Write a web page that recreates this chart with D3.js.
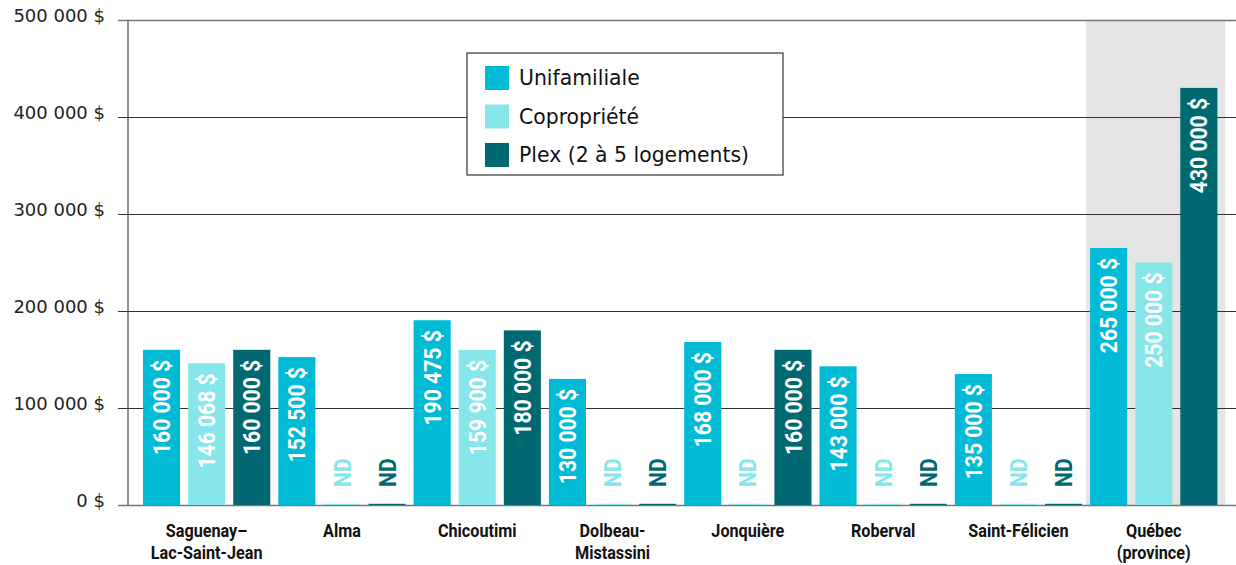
<!DOCTYPE html>
<html>
<head>
<meta charset="utf-8">
<script src="https://cdn.jsdelivr.net/npm/d3@7"></script>
<style>
  body { margin: 0; background: #fff; }
  svg { display: block; }
  .ylab { font-family: 'DejaVu Sans', sans-serif; font-size: 18px; fill: #222; }
  .cat { font-family: 'Roboto', sans-serif; font-weight: bold; font-size: 18px; fill: #111; }
  .val { font-family: 'Roboto', sans-serif; font-weight: bold; font-size: 24px; }
  .leg { font-family: 'DejaVu Sans', sans-serif; font-size: 20.4px; fill: #111; }
</style>
</head>
<body>
<svg></svg>
<script>
let width = 1236;
let height = 565;

// data
let categories = [
    ['Saguenay–', 'Lac-Saint-Jean'],
    ['Alma'],
    ['Chicoutimi'],
    ['Dolbeau-', 'Mistassini'],
    ['Jonquière'],
    ['Roberval'],
    ['Saint-Félicien'],
    ['Québec', '(province)']
];
let seriesNames = ['Unifamiliale', 'Copropriété', 'Plex (2 à 5 logements)'];
let unifamiliale = [160000, 152500, 190475, 130000, 168000, 143000, 135000, 265000];
let copropriete = [146068, null, 159900, null, null, null, null, 250000];
let plex = [160000, null, 180000, null, 160000, null, null, 430000];
let yTicks = [0, 100000, 200000, 300000, 400000, 500000];
let colors = ['#00BAD6', '#86E6EA', '#006870'];
let highlighted = 7; // Québec (province)

let series = [unifamiliale, copropriete, plex];

let svg = d3.select('svg')
    .attr('width', width)
    .attr('height', height);

let y = d3.scaleLinear()
    .domain([0, 500000])
    .range([505, 20]);

let x0 = d3.scaleBand()
    .domain(d3.range(categories.length))
    .range([139, 1221.4])
    .padding(0);

let x1 = d3.scaleBand()
    .domain(d3.range(series.length))
    .range([0, x0.bandwidth()])
    .paddingInner(0.178)
    .paddingOuter(0.089);

let fmt = function (v) {
    return d3.format(',')(v).replace(/,/g, ' ') + ' $';
};

// shaded band behind province
svg.append('rect')
    .attr('x', x0(highlighted))
    .attr('y', y(500000))
    .attr('width', x0.bandwidth() + 4)
    .attr('height', y(0) - y(500000))
    .attr('fill', '#E5E5E5');

// gridlines + y labels
let yAxis = d3.axisLeft(y)
    .tickValues(yTicks)
    .tickSize(-(width - 128))
    .tickPadding(13)
    .tickFormat(fmt);

let ga = svg.append('g')
    .attr('transform', 'translate(128,0)')
    .call(yAxis);
ga.select('.domain').remove();
ga.selectAll('.tick line')
    .attr('x1', -10)
    .attr('stroke', function (d) { return d == 0 || d == 500000 ? '#777' : '#333'; })
    .attr('stroke-width', function (d) { return d == 0 || d == 500000 ? 1.6 : 1; });
ga.selectAll('.tick text')
    .attr('class', 'ylab')
    .attr('x', -23)
    .attr('dy', '0.1em');

svg.append('line')
    .attr('x1', 128).attr('x2', 128)
    .attr('y1', y(500000)).attr('y2', y(0))
    .attr('stroke', '#555')
    .attr('stroke-width', 1.3);

// bars
let rows = [];
categories.forEach(function (c, i) {
    series.forEach(function (s, j) {
        rows.push({ cat: i, ser: j, value: s[i] });
    });
});

let bars = svg.append('g').selectAll('g')
    .data(rows)
    .enter()
    .append('g')
    .attr('transform', function (d) { return 'translate(' + (x0(d.cat) + x1(d.ser)) + ',0)'; });

bars.append('rect')
    .attr('x', 0)
    .attr('width', x1.bandwidth())
    .attr('y', function (d) { return d.value == null ? y(0) - 1.2 : y(d.value); })
    .attr('height', function (d) { return d.value == null ? 1.2 : y(0) - y(d.value); })
    .attr('fill', function (d) { return colors[d.ser]; });

bars.append('text')
    .attr('class', 'val')
    .attr('transform', function (d) {
        let yy = d.value == null ? y(0) - 18 : y(d.value) + 10;
        return 'translate(' + (x1.bandwidth() / 2) + ',' + yy + ') rotate(-90) scale(0.88,1)';
    })
    .attr('text-anchor', function (d) { return d.value == null ? 'start' : 'end'; })
    .attr('dy', '0.36em')
    .attr('fill', function (d) { return d.value == null ? colors[d.ser] : '#fff'; })
    .text(function (d) { return d.value == null ? 'ND' : fmt(d.value); });

// category labels
let cats = svg.append('g').selectAll('text')
    .data(categories)
    .enter()
    .append('text')
    .attr('class', 'cat')
    .attr('text-anchor', 'middle')
    .attr('transform', function (d, i) {
        return 'translate(' + (x0(i) + x0.bandwidth() / 2) + ',537) scale(0.9,1)';
    });
cats.selectAll('tspan')
    .data(function (d) { return d; })
    .enter()
    .append('tspan')
    .attr('x', 0)
    .attr('dy', function (d, i) { return i == 0 ? 0 : 22; })
    .text(function (d) { return d; });

// legend
let legend = svg.append('g')
    .attr('transform', 'translate(467,53)');
legend.append('rect')
    .attr('width', 316)
    .attr('height', 122)
    .attr('fill', '#fff')
    .attr('stroke', '#333')
    .attr('stroke-width', 1.2);
let li = legend.selectAll('g.item')
    .data(seriesNames)
    .enter()
    .append('g')
    .attr('class', 'item')
    .attr('transform', function (d, i) { return 'translate(18,' + (13 + i * 38.5) + ')'; });
li.append('rect')
    .attr('width', 24)
    .attr('height', 24)
    .attr('fill', function (d, i) { return colors[i]; });
li.append('text')
    .attr('class', 'leg')
    .attr('x', 34)
    .attr('y', 12)
    .attr('dy', '0.36em')
    .text(function (d) { return d; });
</script>
</body>
</html>
